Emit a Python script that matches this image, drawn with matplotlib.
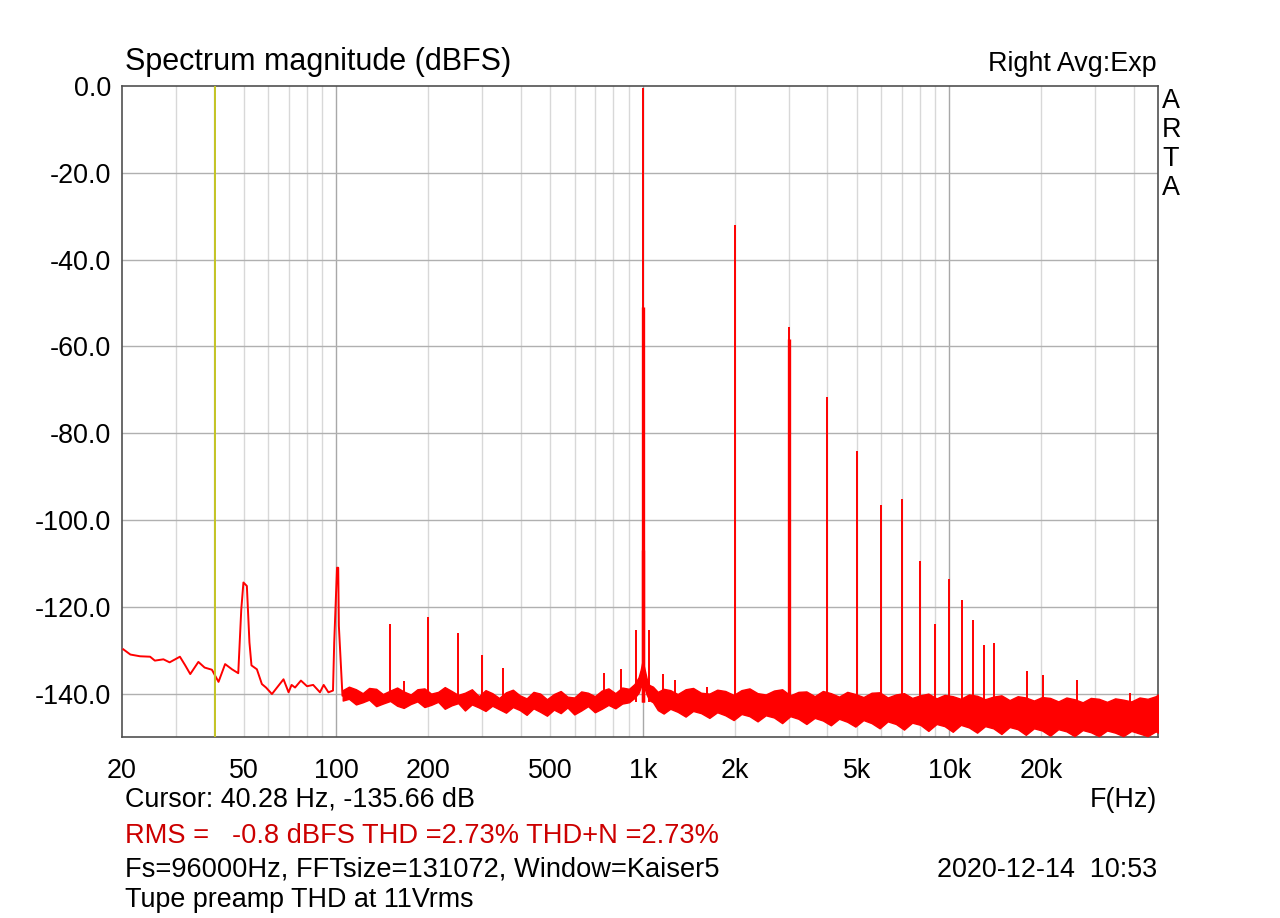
import matplotlib
matplotlib.use("Agg")
import matplotlib.pyplot as plt
from matplotlib.ticker import FixedLocator, NullFormatter

plt.rcParams['font.family'] = ['Liberation Sans', 'DejaVu Sans']

# ---------------- data ----------------
# low-frequency trace (Hz, dBFS)
low_freq = [20.2, 21.3, 22.9, 24.7, 25.6, 27.3, 28.6, 30.9, 32.1, 33.4, 35.5, 37.2,
            39.3, 41.3, 43.4, 45.7, 47.9, 49.0, 49.8, 51.1, 52.1, 52.9, 55.1, 57.2,
            59.0, 61.7, 64.1, 67.3, 69.9, 71.5, 73.4, 76.7, 80.3, 84.1, 88.5, 91.0,
            94.3, 97.6, 98.5, 100.6, 101.5, 102.0, 104.8, 108.7]
low_db = [-129.8, -131.0, -131.4, -131.5, -132.4, -132.1, -132.8, -131.5, -133.4,
          -135.5, -132.7, -134.0, -134.5, -137.3, -133.2, -134.4, -135.3, -120.6,
          -114.4, -115.2, -128.2, -133.5, -134.4, -137.8, -138.6, -140.1, -138.6,
          -136.7, -139.7, -138.0, -138.6, -137.0, -138.3, -138.0, -139.7, -138.0,
          -139.7, -139.3, -128.2, -111.0, -111.0, -124.4, -140.5, -139.7]

# noise-floor band envelope (Hz, upper dBFS, lower dBFS)
band_freq = [105, 110, 116, 122, 128, 135, 142, 150, 158, 166,
             175, 184, 194, 204, 215, 226, 238, 250, 263, 277,
             292, 307, 323, 340, 358, 377, 397, 418, 440, 463,
             487, 513, 540, 568, 598, 630, 663, 698, 735, 773,
             814, 857, 902,
             940, 970, 985, 995, 1000, 1005, 1015, 1030, 1050, 1080,
             1120, 1170, 1230, 1300, 1380, 1460, 1550, 1650, 1750, 1860,
             1980, 2100, 2230, 2370, 2520, 2680, 2850, 3030, 3220, 3420,
             3640, 3870, 4110, 4370, 4650, 4940, 5250, 5580, 5930, 6300,
             6700, 7120, 7570, 8050, 8550, 9090, 9660, 10270, 10910, 11600,
             12330, 13100, 13930, 14800, 15740, 16730, 17780, 18900, 20090, 21350,
             22700, 24120, 25640, 27250, 28970, 30790, 32730, 34790, 36980, 39300,
             41780, 44400, 47200, 48000]
band_hi = [-139.2, -138.4, -139.0, -139.9, -138.7, -138.9, -140.1, -139.3, -138.6, -139.5,
           -140.2, -139.0, -138.8, -140.0, -139.6, -138.5, -139.4, -140.3, -139.8, -139.0,
           -140.6, -139.2, -139.9, -141.0, -139.7, -139.1, -140.4, -141.1, -139.6, -140.0,
           -141.3, -140.1, -139.4, -140.7, -140.9, -139.5, -139.8, -140.6, -139.3, -138.8,
           -139.9, -138.6, -138.9,
           -137.8, -136.2, -134.5, -133.0, -132.5, -133.2, -134.5, -136.5, -138.0, -138.4,
           -139.6, -138.9, -139.2, -140.1, -139.0, -138.7, -139.8, -140.0, -139.1, -139.4,
           -140.3, -139.2, -138.8, -139.9, -140.2, -139.3, -139.0, -140.4, -139.6, -139.5,
           -140.6, -139.4, -139.9, -140.7, -139.6, -140.1, -140.8, -139.8, -139.7, -140.9,
           -140.2, -139.9, -141.0, -140.4, -140.0, -141.1, -140.3, -140.6, -141.2, -140.2,
           -140.5, -141.3, -140.7, -140.4, -141.5, -140.6, -140.9, -141.6, -140.8, -141.0,
           -141.8, -140.9, -141.3, -142.0, -141.0, -141.2, -141.9, -141.1, -141.4, -141.8,
           -140.9, -141.2, -140.6, -140.2]
band_lo = [-141.6, -141.2, -142.5, -142.0, -141.4, -142.9, -142.3, -141.7, -142.8, -143.3,
           -142.4, -141.8, -143.1, -142.6, -141.9, -143.5, -142.7, -142.2, -143.9, -142.5,
           -143.2, -144.0, -142.8, -143.6, -144.4, -143.1, -143.8, -144.9, -143.4, -144.2,
           -145.1, -143.7, -144.5, -143.2, -144.8, -143.9, -142.9, -144.3, -143.5, -142.6,
           -143.4, -142.3, -142.0,
           -141.0, -139.8, -138.5, -137.5, -137.0, -137.5, -138.8, -140.2, -141.5, -142.0,
           -143.8, -144.6, -143.5, -144.2, -145.3, -144.0, -144.5, -145.6, -144.3, -145.0,
           -146.1, -144.7, -145.2, -146.4, -145.0, -145.5, -146.8, -145.2, -145.8, -147.0,
           -145.6, -146.2, -147.3, -145.8, -146.5, -147.6, -146.1, -146.8, -148.0, -146.4,
           -147.0, -148.3, -146.7, -147.2, -148.6, -147.0, -147.5, -148.8, -147.2, -147.8,
           -149.0, -147.5, -148.0, -149.3, -147.7, -148.2, -149.5, -148.0, -148.5, -149.7,
           -148.2, -148.7, -149.8, -148.4, -148.9, -149.8, -148.5, -149.0, -149.8, -148.6,
           -149.2, -149.8, -148.7, -149.0]

# discrete spectral lines (Hz, peak dBFS)
spike_freq = [150, 166, 200, 250, 300, 350, 750, 850, 950, 1050, 1165, 1270, 1620,
              1000, 2000, 3000, 4000, 5000, 6000, 7000, 8000, 9000, 10000, 11000,
              12000, 13000, 14000, 18000, 20200, 26200, 38800]
spike_db = [-123.9, -137.2, -122.4, -126.0, -131.0, -134.1, -135.2, -134.4, -125.4,
            -125.4, -135.5, -136.8, -138.5, -0.5, -32.0, -55.5, -71.7, -84.1, -96.5,
            -95.2, -109.4, -124.0, -113.6, -118.4, -123.0, -128.8, -128.3, -134.8,
            -135.8, -136.8, -139.8]

# neighbouring FFT bins of the two strongest lines
skirt_freq = [1000, 1004, 3000]
skirt_db = [-51.0, -107.0, -58.3]

cursor_hz = 40.28
x_tick_vals = [20, 50, 100, 200, 500, 1000, 2000, 5000, 10000, 20000]
x_tick_labels = ['20', '50', '100', '200', '500', '1k', '2k', '5k', '10k', '20k']
y_tick_vals = [0, -20, -40, -60, -80, -100, -120, -140]

# ---------------- figure ----------------
W, H = 1280, 918
fig = plt.figure(figsize=(W / 100, H / 100), dpi=100)
ax = fig.add_axes([122 / W, 1 - 737 / H, (1158 - 122) / W, (737 - 86) / H])

RED = '#FF0000'
ax.fill_between(band_freq, band_lo, band_hi, color=RED, lw=1.0, zorder=3)
ax.plot(low_freq, low_db, color=RED, lw=1.4, zorder=4)
ax.vlines(spike_freq, -142, spike_db, color=RED, lw=1.4, zorder=4)
ax.vlines(skirt_freq, -142, skirt_db, color=RED, lw=2.4, zorder=4)
ax.axvline(cursor_hz, color='#C4C424', lw=1.4, zorder=5)

ax.set_xscale('log')
ax.set_xlim(20, 48000)
ax.set_ylim(-150, 0)

# grid
minor = []
for dec in (10, 100, 1000, 10000):
    for m in range(2, 10):
        v = dec * m
        if 20 < v < 48000:
            minor.append(v)
for v in minor:
    ax.axvline(v, color='#D8D8D8', lw=1.0, zorder=1)
for v in (100, 1000, 10000):
    ax.axvline(v, color='#A8A8A8', lw=1.0, zorder=1)
for v in y_tick_vals[1:]:
    ax.axhline(v, color='#B0B0B0', lw=1.0, zorder=1)

ax.xaxis.set_major_locator(FixedLocator(x_tick_vals))
ax.xaxis.set_minor_locator(FixedLocator([]))
ax.xaxis.set_minor_formatter(NullFormatter())
ax.set_xticks(x_tick_vals)
ax.set_xticklabels(x_tick_labels)
ax.set_yticks(y_tick_vals)
ax.set_yticklabels([f'{v:.1f}' for v in y_tick_vals])
ax.tick_params(axis='both', which='both', length=0, labelsize=19.4)
ax.tick_params(axis='x', pad=15)
ax.tick_params(axis='y', pad=8)

for s in ax.spines.values():
    s.set_color('#505050')
    s.set_linewidth(1.2)

def ftext(x, y, s, **kw):
    fig.text(x / W, 1 - y / H, s, va='center', **kw)

ftext(125, 62, 'Spectrum magnitude (dBFS)', fontsize=22, ha='left')
ftext(1157, 64, 'Right Avg:Exp', fontsize=19.4, ha='right')
for i, ch in enumerate('ARTA'):
    ftext(1162, 101 + i * 29, ch, fontsize=19.4, ha='left')
ftext(125, 800, 'Cursor: 40.28 Hz, -135.66 dB', fontsize=19.4, ha='left')
ftext(1157, 800, 'F(Hz)', fontsize=19.4, ha='right')
ftext(125, 836, 'RMS =   -0.8 dBFS THD =2.73% THD+N =2.73%', fontsize=19.6,
      ha='left', color='#CC0000')
ftext(125, 870, 'Fs=96000Hz, FFTsize=131072, Window=Kaiser5', fontsize=19.6, ha='left')
ftext(1157, 870, '2020-12-14  10:53', fontsize=19.4, ha='right')
ftext(125, 900, 'Tupe preamp THD at 11Vrms', fontsize=19.4, ha='left')

fig.savefig('out.png', dpi=100, facecolor='white')
